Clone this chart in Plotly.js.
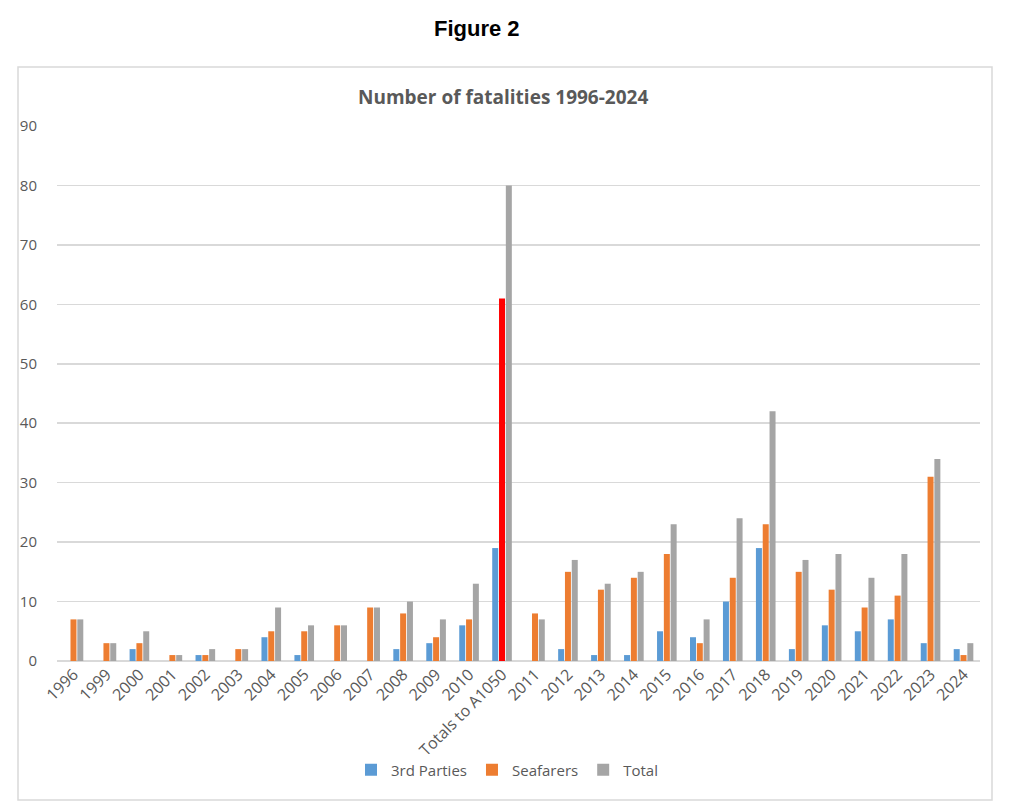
<!DOCTYPE html>
<html>
<head>
<meta charset="utf-8">
<script src="https://cdn.plot.ly/plotly-3.0.1.min.js"></script>
<style>html,body{margin:0;padding:0;background:#fff;}#chart{width:1024px;height:808px;}</style>
</head>
<body>
<div id="chart"></div>
<script>
const categories = ["1996","1999","2000","2001","2002","2003","2004","2005","2006","2007","2008","2009","2010","Totals to A1050","2011","2012","2013","2014","2015","2016","2017","2018","2019","2020","2021","2022","2023","2024"];
const thirdParties = [0,0,2,0,1,0,4,1,0,0,2,3,6,19,0,2,1,1,5,4,10,19,2,6,5,7,3,2];
const seafarers = [7,3,3,1,1,2,5,5,6,9,8,4,7,61,8,15,12,14,18,3,14,23,15,12,9,11,31,1];
const totals = [7,3,5,1,2,2,9,6,6,9,10,7,13,80,7,17,13,15,23,7,24,42,17,18,14,18,34,3];
const highlightCategory = "Totals to A1050";

const blue = "#5B9BD5", orange = "#ED7D31", grey = "#A5A5A5", red = "#FF0000";
const seafarerColors = categories.map(c => c === highlightCategory ? red : orange);

const font = "Open Sans, Liberation Sans, Arial, sans-serif";
const textCol = "#595959";

const traces = [
  {type:"bar", name:"3rd Parties", x:categories, y:thirdParties, marker:{color:blue}},
  {type:"bar", name:"Seafarers", x:categories, y:seafarers, marker:{color:seafarerColors}},
  {type:"bar", name:"Total", x:categories, y:totals, marker:{color:grey}}
];

const L = 57, R = 980, T = 126, B = 661;
const W = R - L, H = B - T;
const px = v => (v - L) / W;
const py = v => (B - v) / H;

const layout = {
  width:1024, height:808,
  margin:{l:L, r:1024-R, t:T, b:808-B},
  paper_bgcolor:"#fff", plot_bgcolor:"#fff",
  barmode:"group", bargap:0.38, bargroupgap:0.12,
  showlegend:true,
  legend:{orientation:"h", x:px(507), xanchor:"center", y:py(770), yanchor:"middle",
          font:{family:font, size:15, color:textCol}, itemwidth:30, traceorder:"normal"},
  xaxis:{type:"category", tickangle:-45, tickfont:{family:font, size:16, color:textCol},
         showgrid:false, showline:false, ticks:"", automargin:false},
  yaxis:{range:[0,90], dtick:10, tickfont:{family:font, size:15, color:textCol},
         gridcolor:"#d9d9d9", gridwidth:1.5, zeroline:true, zerolinecolor:"#d9d9d9", zerolinewidth:1.5,
         showline:false, ticks:"", ticklabelstandoff:19, automargin:false},
  annotations:[
    {text:"<b>Figure 2</b>", xref:"paper", yref:"paper", x:px(477), y:py(28), xanchor:"center", yanchor:"middle",
     showarrow:false, font:{family:"Liberation Sans, Arial, sans-serif", size:22, color:"#000"}},
    {text:"<b>Number of fatalities 1996-2024</b>", xref:"paper", yref:"paper", x:px(503), y:py(97), xanchor:"center", yanchor:"middle",
     showarrow:false, font:{family:font, size:19, color:textCol}}
  ],
  shapes:[
    {type:"rect", xref:"paper", yref:"paper", x0:px(18), x1:px(992), y0:py(800), y1:py(67),
     line:{color:"#d9d9d9", width:1.5}, fillcolor:"rgba(0,0,0,0)", layer:"below"}
  ]
};

Plotly.newPlot("chart", traces, layout, {displayModeBar:false, staticPlot:true});
</script>
</body>
</html>
